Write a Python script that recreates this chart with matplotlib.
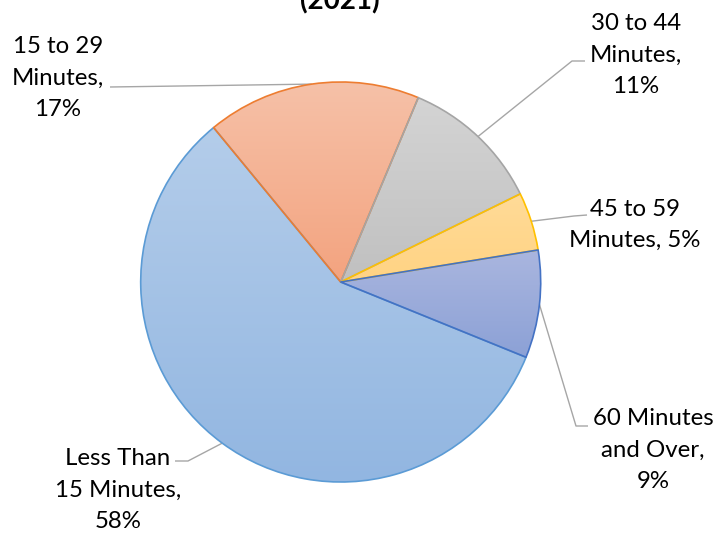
import numpy as np
import matplotlib
matplotlib.use("Agg")
import matplotlib.pyplot as plt
from matplotlib.colors import LinearSegmentedColormap

# ---- data ----
categories = ["Less Than 15 Minutes", "15 to 29 Minutes", "30 to 44 Minutes",
              "45 to 59 Minutes", "60 Minutes and Over"]
shares = [57.9, 17.3, 11.4, 4.7, 8.7]
label_names = ["Less Than\n15 Minutes,", "15 to 29\nMinutes,", "30 to 44\nMinutes,",
               "45 to 59\nMinutes,", "60 Minutes\nand Over,"]
title_text = "(2021)"

# ---- style ----
edge_colors = ["#5B9BD5", "#ED7D31", "#A5A5A5", "#FFC000", "#4472C4"]
grad_colors = [("#B4CDEA", "#92B6E1"), ("#F6C1A8", "#F3A37F"), ("#D4D4D4", "#C0C0C0"),
               ("#FFDB98", "#FFD383"), ("#AAB6DF", "#8CA1D6")]
W, H = 728, 533
FONT = ["Lato", "DejaVu Sans"]

fig = plt.figure(figsize=(W / 100, H / 100), dpi=100)
ax = fig.add_axes([0, 0, 1, 1])
cx, cy, R = 340.7, H - 282.0, 200.0

wedges, _ = ax.pie(shares, startangle=-22.1, counterclock=False, center=(cx, cy),
                   radius=R, colors=["none"] * len(shares),
                   wedgeprops=dict(linewidth=1.2, joinstyle="round"))
for w, ec, (ctop, cbot) in zip(wedges, edge_colors, grad_colors):
    w.set_edgecolor(ec)
    w.set_facecolor("none")
    w.set_zorder(3)
    bb = w.get_path().get_extents()
    cmap = LinearSegmentedColormap.from_list("g", [cbot, ctop])
    grad = np.linspace(0, 1, 256).reshape(-1, 1)
    im = ax.imshow(grad, cmap=cmap, extent=[bb.x0, bb.x1, bb.y0, bb.y1],
                   origin="lower", aspect="auto", zorder=2, interpolation="bilinear")
    im.set_clip_path(w)

# label layout (pixel positions, y from top)
label_pos = [(118, 490), (58, 78), (636, 55), (635, 225), (653, 450)]
elbows = [[(188, 461), (175, 461)], [(110, 87)], [(572, 61), (585, 61)],
          [(574, 216), (587, 215)], [(576, 426), (588, 426)]]

for i, w in enumerate(wedges):
    mid = np.deg2rad((w.theta1 + w.theta2) / 2)
    ex, ey = cx + R * np.cos(mid), cy + R * np.sin(mid)
    xs = [ex] + [p[0] for p in elbows[i]]
    ys = [ey] + [H - p[1] for p in elbows[i]]
    ax.plot(xs, ys, color="#A6A6A6", lw=1.0, zorder=1, solid_capstyle="butt")
    pct = f"{round(shares[i] / sum(shares) * 100)}%"
    sep = " " if i == 3 else "\n"
    txt = label_names[i] + sep + pct
    lx, ly = label_pos[i]
    ax.text(lx, H - ly, txt, ha="center", va="center", fontsize=17.3,
            family=FONT, color="#000000", linespacing=1.6, zorder=4)

fig.text(340 / W, 1 - 9.5 / H, title_text, ha="center", va="baseline",
         fontsize=20, fontweight="bold", family=FONT, color="#000000")

ax.set_xlim(0, W)
ax.set_ylim(0, H)
ax.set_aspect("auto")
ax.axis("off")
fig.savefig("out.png", dpi=100, facecolor="white")
